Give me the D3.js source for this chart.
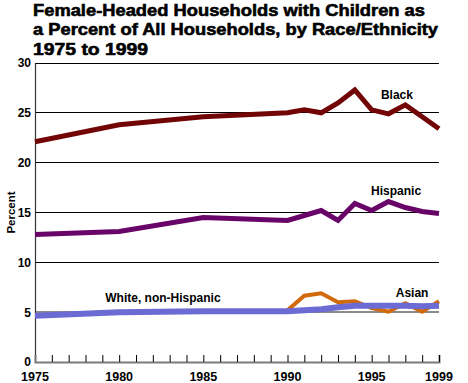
<!DOCTYPE html>
<html>
<head>
<meta charset="utf-8">
<script src="https://cdn.jsdelivr.net/npm/d3@7"></script>
<style>
  html, body { margin: 0; padding: 0; background: #fff; }
  svg { display: block; font-family: "Liberation Sans", Arial, sans-serif; }
</style>
</head>
<body>
<svg id="chart" width="468" height="383"></svg>
<script>
const titleLines = [
  "Female-Headed Households with Children as",
  "a Percent of All Households, by Race/Ethnicity",
  "1975 to 1999"
];
const titleWidths = [392, 405, 115];

const blackYears = [1975, 1980, 1985, 1990, 1991, 1992, 1993, 1994, 1995, 1996, 1997, 1998, 1999];
const blackValues = [22.1, 23.8, 24.6, 25.0, 25.3, 25.0, 26.0, 27.3, 25.3, 24.9, 25.8, 24.6, 23.4];

const hispanicYears = [1975, 1980, 1985, 1990, 1991, 1992, 1993, 1994, 1995, 1996, 1997, 1998, 1999];
const hispanicValues = [12.8, 13.1, 14.5, 14.2, 14.7, 15.2, 14.2, 15.9, 15.2, 16.1, 15.5, 15.1, 14.9];

const whiteYears = [1975, 1980, 1985, 1990, 1991, 1992, 1993, 1994, 1995, 1996, 1997, 1998, 1999];
const whiteValues = [4.65, 5.0, 5.1, 5.1, 5.2, 5.3, 5.5, 5.65, 5.65, 5.65, 5.65, 5.6, 5.65];

const asianYears = [1990, 1991, 1992, 1993, 1994, 1995, 1996, 1997, 1998, 1999];
const asianValues = [5.2, 6.65, 6.9, 6.0, 6.1, 5.4, 5.05, 5.9, 5.05, 6.1];

const yTicks = [0, 5, 10, 15, 20, 25, 30];
const xLabelYears = [1975, 1980, 1985, 1990, 1995, 1999];
const xTickYears = d3.range(1976, 2000);

const seriesNames = ["Black", "Hispanic", "Asian", "White, non-Hispanic"];
// label anchor (year, value) for each series label
const labelYears = [1996.5, 1996.45, 1997.4, 1982.6];
const labelValues = [26.4, 16.8, 6.55, 6.0];

const svg = d3.select("#chart");
const margin = { left: 35, right: 29, top: 63, bottom: 21 };
const W = 468, H = 383;

const x = d3.scaleLinear().domain([1975, 1999]).range([margin.left, W - margin.right]);
const y = d3.scaleLinear().domain([0, 30]).range([H - margin.bottom, margin.top]);

// Title
svg.append("g").selectAll("text").data(titleLines).join("text")
  .attr("x", 33)
  .attr("y", (d, i) => 15.5 + i * 19.5)
  .attr("font-size", 16.5)
  .attr("font-weight", "bold")
  .attr("fill", "#000")
  .attr("stroke", "#000")
  .attr("stroke-width", 0.6)
  .attr("textLength", (d, i) => titleWidths[i])
  .attr("lengthAdjust", "spacingAndGlyphs")
  .text(d => d);

// Gridlines
svg.append("g").selectAll("line").data(yTicks.filter(v => v > 0)).join("line")
  .attr("x1", x(1975)).attr("x2", x(1999))
  .attr("y1", d => y(d)).attr("y2", d => y(d))
  .attr("stroke", d => d === 5 ? "#8c8c8c" : "#000")
  .attr("stroke-width", d => d === 5 ? 2 : 1)
  .attr("shape-rendering", "crispEdges");

// Y axis
const yAxis = d3.axisLeft(y).tickValues(yTicks).tickSize(0).tickPadding(4);
const gy = svg.append("g").attr("transform", `translate(${x(1975)},0)`).call(yAxis);
gy.select(".domain").attr("stroke", "#333").attr("stroke-width", 1.2);
gy.selectAll("text").attr("font-size", 12).attr("font-weight", "bold")
  .attr("font-family", "Liberation Sans, Arial, sans-serif").attr("fill", "#000");

// X axis (ticks inward)
const xAxis = d3.axisBottom(x).tickValues(xTickYears).tickSize(-7).tickFormat("");
const gx = svg.append("g").attr("transform", `translate(0,${y(0)})`).call(xAxis);
gx.select(".domain").attr("stroke", "#7a7a7a").attr("stroke-width", 2);
gx.selectAll(".tick line").attr("stroke", "#000").attr("stroke-width", 1);

svg.append("g").selectAll("text").data(xLabelYears).join("text")
  .attr("x", d => x(d))
  .attr("y", y(0) + 18.5)
  .attr("text-anchor", "middle")
  .attr("font-size", 12.5)
  .attr("font-weight", "bold")
  .text(d => d);

// Y title
svg.append("text")
  .attr("transform", `translate(14.5,${(y(0) + y(30)) / 2}) rotate(-90)`)
  .attr("text-anchor", "middle")
  .attr("font-size", 11.5)
  .attr("font-weight", "bold")
  .text("Percent");

// Lines
const line = d3.line().x(d => x(d[0])).y(d => y(d[1]));
const series = [
  { yrs: blackYears, vals: blackValues, color: "#720606", w: 5 },
  { yrs: hispanicYears, vals: hispanicValues, color: "#690569", w: 5 },
  { yrs: asianYears, vals: asianValues, color: "#d06a0a", w: 4 },
  { yrs: whiteYears, vals: whiteValues, color: "#6b6bd3", w: 6 }
];
svg.append("g").selectAll("path").data(series).join("path")
  .attr("d", s => line(s.yrs.map((yr, i) => [yr, s.vals[i]])))
  .attr("fill", "none")
  .attr("stroke", s => s.color)
  .attr("stroke-width", s => s.w)
  .attr("stroke-linejoin", "miter")
  .attr("stroke-miterlimit", 3);

// Series labels
svg.append("g").selectAll("text").data(seriesNames).join("text")
  .attr("x", (d, i) => x(labelYears[i]))
  .attr("y", (d, i) => y(labelValues[i]))
  .attr("text-anchor", "middle")
  .attr("font-size", 12)
  .attr("font-weight", "bold")
  .text(d => d);
</script>
</body>
</html>
